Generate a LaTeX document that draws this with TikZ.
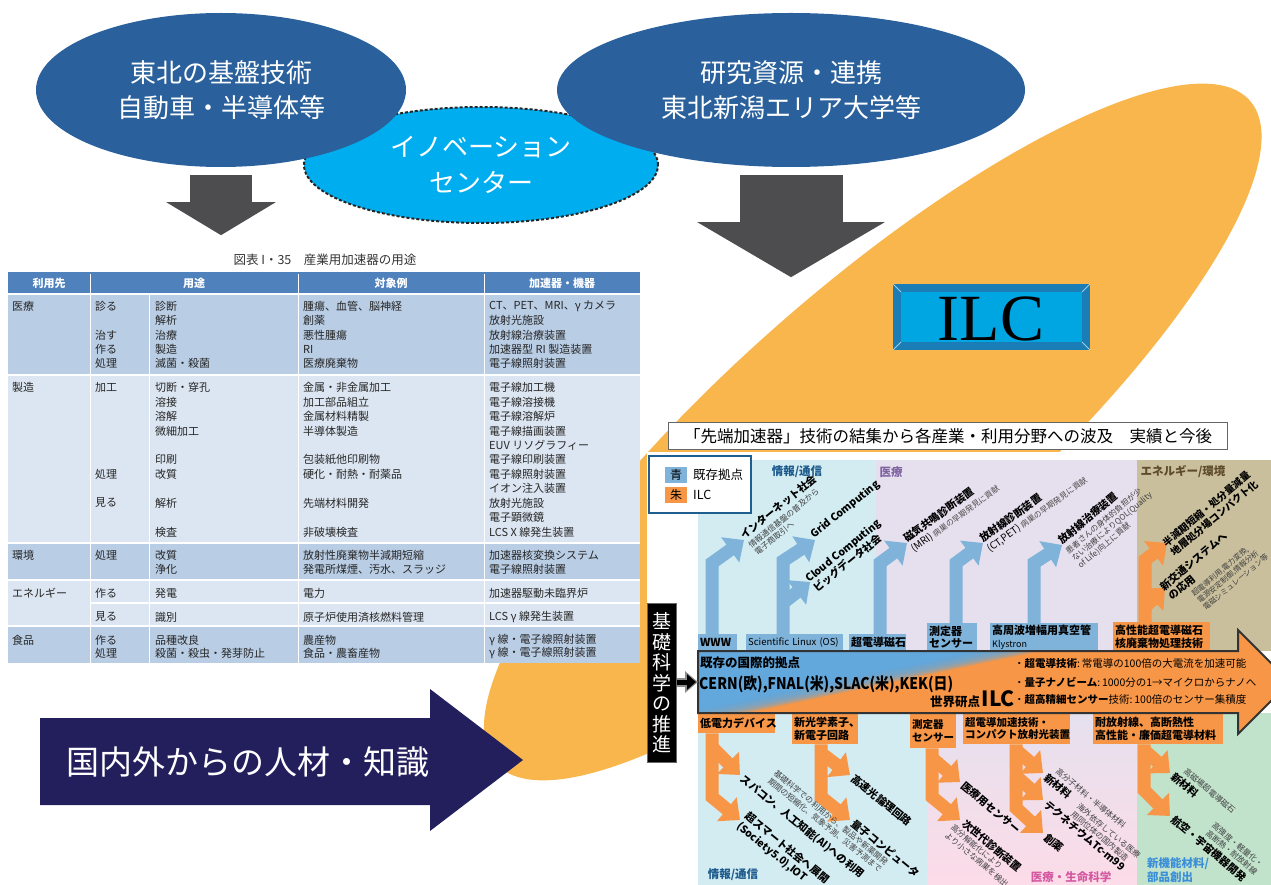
\documentclass[tikz,border=0pt]{standalone}
\usepackage{fontspec}
\setmainfont{Noto Sans CJK JP}
\newfontfamily\ilcfont{Liberation Serif}
\usetikzlibrary{arrows.meta,calc,shapes.geometric}
\newcommand\fsz[2]{\fontsize{#1}{#2}\selectfont}
\definecolor{ellblue}{HTML}{2A619C}
\definecolor{innov}{HTML}{00AEEF}
\definecolor{darkarrow}{HTML}{4D4D4F}
\definecolor{leaf}{HTML}{F9B64C}
\definecolor{navy}{HTML}{221F5C}
\definecolor{thead}{HTML}{4F81BD}
\definecolor{tmid}{HTML}{B9CDE5}
\definecolor{tlight}{HTML}{DCE6F2}
\definecolor{ilcouter}{HTML}{1A7DB5}
\definecolor{ilcin}{HTML}{00A6E2}
\definecolor{bl}{HTML}{7FB3DA}
\definecolor{orn}{HTML}{F79646}
\definecolor{cyanbg}{HTML}{D2ECF2}
\definecolor{lavbg}{HTML}{E6E0EE}
\definecolor{khaki}{HTML}{C9BF9D}
\definecolor{pinkbg}{HTML}{FCDCE8}
\definecolor{greenbg}{HTML}{C1E2CB}
\definecolor{arrblue}{HTML}{62A8DD}
\definecolor{legbd}{HTML}{1F5F8F}
\definecolor{catblue}{HTML}{1C5A8C}
\definecolor{catpurp}{HTML}{8064A2}
\definecolor{catbrown}{HTML}{5E4B2A}
\definecolor{catpink}{HTML}{D458A0}
\definecolor{catlblue}{HTML}{3A8FD8}
\begin{document}
\begin{tikzpicture}[x=1pt,y=-1pt,
  tt/.style={anchor=west, inner sep=0, font=\fsz{11}{13}, text=black!85},
  th/.style={inner sep=0, font=\bfseries\fsz{11}{13}, text=white},
  rt/.style={inner sep=0, font=\bfseries\fsz{10.5}{12.5}, align=left, text=black},
  st/.style={inner sep=0, font=\fsz{8}{9.5}, align=left, text=black!75},
  lbl/.style={anchor=north west, inner xsep=2, inner ysep=1, font=\bfseries\fsz{11}{12.5}, align=left, text=black},
  ua/.style={draw=bl, line width=13, line join=miter, -{Triangle[width=30pt,length=17pt]}},
  oa/.style={ua, draw=orn},
  cat/.style={inner sep=0, font=\bfseries\fsz{11.5}{13}},
]
\useasboundingbox (0,0) rectangle (1271,885);
\clip (0,0) rectangle (1271,885);

% orange leaf
\fill[leaf, rotate around={41.3:(875,430)}] (872,430) ellipse [x radius=502, y radius=143];

% top ellipses
\node[ellipse, fill=innov, draw=black!85, densely dashed, line width=2, minimum width=354, minimum height=116, inner sep=0, text=white, font=\fsz{26}{36}, align=center] (innov) at (481,165) {イノベーション\\センター};
\node[ellipse, fill=ellblue, minimum width=370, minimum height=154, inner sep=0, text=white, font=\fsz{26}{35}, align=center] (tohoku) at (221,90) {東北の基盤技術\\自動車・半導体等};
\node[ellipse, fill=ellblue, minimum width=468, minimum height=154, inner sep=0, text=white, font=\fsz{26}{35}, align=center] (kenkyu) at (791,90) {研究資源・連携\\東北新潟エリア大学等};

% down arrows
\draw[darkarrow, line width=62, -{Triangle[width=108pt,length=33pt]}] ($(tohoku.south)+(0,8)$) -- ++(0,60);
\draw[darkarrow, line width=103, -{Triangle[width=185pt,length=55pt]}] ($(kenkyu.south)+(0,8)$) -- ++(0,102);

% table
\node[inner sep=0, font=\fsz{12.5}{14}, text=black!80] (tabtitle) at (325,260) {図表 I・35\quad 産業用加速器の用途};
\fill[thead] (8,272) rectangle (640,294);
\fill[tmid] (8,294) rectangle (640,375);
\fill[tlight] (8,375) rectangle (640,543);
\fill[tmid] (8,543) rectangle (640,580);
\fill[tlight] (8,580) rectangle (640,626);
\fill[tmid] (8,626) rectangle (640,663);
\foreach \yy in {294,375,543,580,626} \draw[white, line width=1.5] (8,\yy) -- (640,\yy);
\draw[white, line width=1.5] (90,603) -- (640,603);
\foreach \xx in {90,298,484} \draw[white, line width=1] (\xx,274) -- (\xx,663);
\draw[white, line width=1] (149,294) -- (149,663);
\node[th] (h1) at (49,283) {利用先};
\node[th] (h2) at (194,283) {用途};
\node[th] (h3) at (391,283) {対象例};
\node[th] (h4) at (562,283) {加速器・機器};
\foreach \yy/\a/\b/\c/\d/\e [count=\i] in {
 306/医療/診る/診断/腫瘍、血管、脳神経/CT、PET、MRI、γ カメラ,
 320/{}/{}/解析/創薬/放射光施設,
 335/{}/治す/治療/悪性腫瘍/放射線治療装置,
 349/{}/作る/製造/RI/加速器型 RI 製造装置,
 363/{}/処理/滅菌・殺菌/医療廃棄物/電子線照射装置,
 387/製造/加工/切断・穿孔/金属・非金属加工/電子線加工機,
 402/{}/{}/溶接/加工部品組立/電子線溶接機,
 416/{}/{}/溶解/金属材料精製/電子線溶解炉,
 431/{}/{}/微細加工/半導体製造/電子線描画装置,
 445/{}/{}/{}/{}/EUV リソグラフィー,
 459/{}/{}/印刷/包装紙他印刷物/電子線印刷装置,
 474/{}/処理/改質/硬化・耐熱・耐薬品/電子線照射装置,
 488/{}/{}/{}/{}/イオン注入装置,
 503/{}/見る/解析/先端材料開発/放射光施設,
 517/{}/{}/{}/{}/電子顕微鏡,
 532/{}/{}/検査/非破壊検査/LCS X 線発生装置,
 555/環境/処理/改質/放射性廃棄物半減期短縮/加速器核変換システム,
 569/{}/{}/浄化/発電所煤煙、汚水、スラッジ/電子線照射装置,
 593/エネルギー/作る/発電/電力/加速器駆動未臨界炉,
 617/{}/見る/識別/原子炉使用済核燃料管理/LCS γ 線発生装置,
 640/食品/作る/品種改良/農産物/γ 線・電子線照射装置,
 653/{}/処理/殺菌・殺虫・発芽防止/食品・農畜産物/γ 線・電子線照射装置}{
 \node[tt] (ta\i) at (12,\yy) {\a};
 \node[tt] (tb\i) at (95,\yy) {\b};
 \node[tt] (tc\i) at (155,\yy) {\c};
 \node[tt] (td\i) at (303,\yy) {\d};
 \node[tt] (te\i) at (489,\yy) {\e};
}

% ILC box
\fill[ilcouter] (893,284) rectangle (1090,350);
\fill[ilcin] (901,292) rectangle (1082,342);
\draw[white!60!ilcouter, line width=1] (893,284) -- (901,292) (1090,284) -- (1082,292) (893,350) -- (901,342) (1090,350) -- (1082,342);
\node[inner sep=0, font=\ilcfont\fsz{66}{70}] (ilc) at (991,319) {ILC};

% navy arrow
\fill[navy] (40,718) -- (430,718) -- (430,689) -- (523,760) -- (430,831) -- (430,805) -- (40,805) -- cycle;
\node[text=white, inner sep=0, font=\fsz{33}{36}] (jinzai) at (248,762) {国内外からの人材・知識};

% right panel
\fill[white] (647,452) rectangle (1271,885);
\node[draw=black!60, fill=white, line width=1, minimum width=559, minimum height=27, anchor=north west, inner sep=0, font=\fsz{16.5}{18}] (title) at (668,422) {「先端加速器」技術の結集から各産業・利用分野への波及\quad 実績と今後};

\fill[cyanbg] (698,460) rectangle (876,651);
\fill[lavbg] (876,460) rectangle (1137,651);
\fill[khaki] (1137,460) rectangle (1271,651);
\fill[cyanbg] (698,713) rectangle (927,885);
\shade[top color=lavbg, bottom color=pinkbg] (927,713) rectangle (1137,885);
\fill[greenbg] (1137,713) rectangle (1271,885);

% legend
\node[draw=legbd, line width=1.5, fill=white, minimum width=102, minimum height=57, anchor=north west, inner sep=0] (legend) at (648,455) {};
\node[fill=bl, minimum width=22, minimum height=16, inner sep=0, font=\fsz{12}{12}] (lgb) at (676,475) {青};
\node[fill=orn, minimum width=22, minimum height=16, inner sep=0, font=\fsz{12}{12}] (lgo) at (676,495) {朱};
\node[anchor=west, inner sep=0, font=\fsz{12.5}{13}] (lgbt) at (693,475) {既存拠点};
\node[anchor=west, inner sep=0, font=\fsz{12.5}{13}] (lgot) at (693,495) {ILC};

% label boxes (upper)
\node[lbl, fill=bl, text width=35, minimum height=17] (www) at (698,634) {WWW};
\node[lbl, fill=bl, text width=93, minimum height=17, font=\fsz{9.5}{11}] (sl) at (746,634) {Scientific Linux (OS)};
\node[lbl, fill=bl, text width=53, minimum height=17] (mag) at (849,634) {超電導磁石};
\node[lbl, fill=bl, text width=46, minimum height=28] (sen1) at (927,623) {測定器\\センサー};
\node[lbl, fill=bl, text width=104, minimum height=28] (kly) at (990,623) {高周波増幅用真空管\\{\mdseries\fsz{9}{10}Klystron}};
\node[lbl, fill=orn, text width=93, minimum height=29] (kos) at (1113,622) {高性能超電導磁石\\核廃棄物処理技術};

% label boxes (lower)
\node[lbl, fill=orn, text width=73, minimum height=20] (tei) at (698,713) {低電力デバイス};
\node[lbl, fill=orn, text width=62, minimum height=31] (shin) at (792,713) {新光学素子、\\新電子回路};
\node[lbl, fill=orn, text width=42, minimum height=35, font=\bfseries\fsz{10.5}{12.5}] (sen2) at (910,713) {測定器\\センサー};
\node[lbl, fill=orn, text width=103, minimum height=31, font=\bfseries\fsz{10.5}{12.5}] (cho) at (963,713) {超電導加速技術・\\コンパクト放射光装置};
\node[lbl, fill=orn, text width=126, minimum height=31] (tai) at (1093,713) {耐放射線、高断熱性\\高性能・廉価超電導材料};

% upper arrows
\coordinate (u1b) at (712,563); \coordinate (u1t) at (744,540);
\coordinate (u2b) at (783,561); \coordinate (u2t) at (815,540);
\coordinate (u2c) at (783,603); \coordinate (u2d) at (810,582);
\coordinate (u3b) at (880,563); \coordinate (u3t) at (907,543);
\coordinate (u4b) at (956,563); \coordinate (u4t) at (983,543);
\coordinate (u5b) at (1034,563); \coordinate (u5t) at (1062,545);
\coordinate (u6b) at (1145,560); \coordinate (u6t) at (1167,543);
\coordinate (u6c) at (1145,607); \coordinate (u6d) at (1165,588);
\draw[ua] (www.north -| u1b) -- (u1b) -- (u1t);
\draw[ua] (sl.north -| u2b) -- (u2b) -- (u2t);
\draw[ua] (u2c) -- (u2d);
\draw[ua] (mag.north -| u3b) -- (u3b) -- (u3t);
\draw[ua] (sen1.north -| u4b) -- (u4b) -- (u4t);
\draw[ua] (kly.north -| u5b) -- (u5b) -- (u5t);
\draw[oa] (kos.north -| u6b) -- (u6b) -- (u6t);
\draw[oa] (u6c) -- (u6d);

% lower arrows
\coordinate (d1b) at (712,797); \coordinate (d1t) at (740,820);
\coordinate (d1c) at (712,747); \coordinate (d1d) at (740,775);
\coordinate (d2b) at (821,797); \coordinate (d2t) at (850,820);
\coordinate (d2c) at (821,753); \coordinate (d2d) at (850,775);
\coordinate (d3b) at (932,797); \coordinate (d3t) at (960,820);
\coordinate (d3c) at (932,758); \coordinate (d3d) at (960,782);
\coordinate (d4b) at (1016,808); \coordinate (d4t) at (1043,833);
\coordinate (d4c) at (1016,750); \coordinate (d4d) at (1043,773);
\coordinate (d4e) at (1016,776); \coordinate (d4f) at (1043,800);
\coordinate (d5b) at (1144,790); \coordinate (d5t) at (1170,816);
\coordinate (d5c) at (1144,750); \coordinate (d5d) at (1170,773);
\draw[oa] (tei.south -| d1b) -- (d1b) -- (d1t);
\draw[oa] (d1c) -- (d1d);
\draw[oa] (shin.south -| d2b) -- (d2b) -- (d2t);
\draw[oa] (d2c) -- (d2d);
\draw[oa] (sen2.south -| d3b) -- (d3b) -- (d3t);
\draw[oa] (d3c) -- (d3d);
\draw[oa] (cho.south -| d4b) -- (d4b) -- (d4t);
\draw[oa] (d4c) -- (d4d);
\draw[oa] (d4e) -- (d4f);
\draw[oa] (tai.south -| d5b) -- (d5b) -- (d5t);
\draw[oa] (d5c) -- (d5d);

% big arrow
\coordinate (A1) at (698,651); \coordinate (A2) at (1238,651); \coordinate (A3) at (1238,630);
\coordinate (A4) at (1290,682); \coordinate (A5) at (1238,734); \coordinate (A6) at (1238,713);
\coordinate (A7) at (698,713); \coordinate (arrL) at (698,682);
\fill[orn] (A1) -- (A2) -- (A3) -- (A4) -- (A5) -- (A6) -- (A7) -- cycle;
\begin{scope}
\clip (A1) -- (A2) -- (A3) -- (A4) -- (A5) -- (A6) -- (A7) -- cycle;
\fill[arrblue] (600,640) -- (1032,640) -- (644,722) -- (600,722) -- cycle;
\foreach \d in {-24,-18,...,30} {
  \fill[arrblue, opacity=0.25] (600,640) -- ({1062+\d},640) -- ({674+\d},722) -- (600,722) -- cycle;
}
\end{scope}
\draw[black!80, line width=2, line join=miter] (A1) -- (A2) -- (A3) -- (A4) -- (A5) -- (A6) -- (A7) -- cycle;

\node[anchor=west, inner sep=0, font=\bfseries\fsz{12.5}{14}] (kizon) at (700,663) {既存の国際的拠点};
\node[anchor=west, inner sep=0, font=\bfseries\fsz{16}{18}] (cern) at (699,684) {\scalebox{0.87}[1]{CERN(欧),FNAL(米),SLAC(米),KEK(日)}};
\node[anchor=base east, inner sep=0] (sekai) at (1015,706) {{\bfseries\fsz{12.5}{14}世界研点}\,{\bfseries\fsz{21}{22}ILC}};
\node[anchor=west, inner sep=0, font=\fsz{10.5}{12}] (bu1) at (1014,663) {・{\bfseries 超電導技術}:\,常電導の100倍の大電流を加速可能};
\node[anchor=west, inner sep=0, font=\fsz{10.5}{12}] (bu2) at (1014,682) {・{\bfseries 量子ナノビーム}:\,1000分の1→マイクロからナノへ};
\node[anchor=west, inner sep=0, font=\fsz{10.5}{12}] (bu3) at (1014,700) {・{\bfseries 超高精細センサー}技術:\,100倍のセンサー集積度};

% kiso box
\node[fill=black, draw=black!60, line width=1, minimum width=29, minimum height=159, anchor=north west, inner sep=0] (kiso) at (647,603) {};
\node[text=white, inner sep=0, font=\fsz{19}{20.5}, align=center] (kisot) at (kiso.center) {基\\礎\\科\\学\\の\\推\\進};
\draw[line width=9, black!45, -{Triangle[width=21pt,length=13pt]}] (kiso.east |- arrL) -- (arrL);
\draw[line width=5, black, -{Triangle[width=15pt,length=9pt]}] (kiso.east |- arrL) -- ($(arrL)+(-2,0)$);

% upper rotated texts
\node[rt, rotate=39, anchor=south west] (t1) at (745,541) {インターネット社会};
\node[st, rotate=39, anchor=north west] (t1s) at (747,543) {情報通信基盤の普及から\\電子商取引へ};
\node[rt, rotate=39, anchor=south west] (t2) at (816,541) {Grid Computing};
\node[rt, rotate=39, anchor=west] (t3) at (811,585) {Cloud Computing\\ビッグデータ社会};
\node[rt, rotate=36, anchor=south west] (t4) at (908,544) {磁気共鳴診断装置};
\node[rt, rotate=36, anchor=north west, font=\fsz{10}{12}] (t4s) at (909,546) {(MRI)\ {\fsz{8}{9}\color{black!70}病巣の早期発見に貢献}};
\node[rt, rotate=36, anchor=south west] (t5) at (984,544) {放射線診断装置};
\node[rt, rotate=36, anchor=north west, font=\fsz{10}{12}] (t5s) at (985,546) {(CT,PET)\ {\fsz{8}{9}\color{black!70}病巣の早期発見に貢献}};
\node[rt, rotate=40, anchor=south west] (t6) at (1063,546) {放射線治療装置};
\node[st, rotate=40, anchor=north west] (t6s) at (1064,549) {患者さんの身体的負担が少\\ない治療によりQOL(Quality\\of Life)向上に貢献};
\node[rt, rotate=40, anchor=west, font=\bfseries\fsz{10}{12}] (t7) at (1168,549) {半減期短縮・処分量減量\\地層処分場コンパクト化};
\node[rt, rotate=40, anchor=west] (t8) at (1166,593) {新交通システムへ\\の応用};
\node[st, rotate=40, anchor=north west, font=\fsz{7.5}{9}] (t8s) at (1190,592) {超電導利用,電力変換,\\電源安定制御,情報分析\\電磁シミュレーション等};

% lower rotated texts
\node[rt, rotate=-39, anchor=west] (b1) at (742,778) {スパコン、人工知能(AI)への利用};
\node[st, rotate=-39, anchor=west] (b1s) at (772,776) {基礎科学での利用から、製品や新薬開発\\期間の短縮化、気象予測、災害予測まで};
\node[rt, rotate=-39, anchor=west] (b2) at (742,820) {超スマート社会へ展開\\(Society5.0),IOT};
\node[rt, rotate=-39, anchor=west] (b3) at (853,777) {高速光論理回路};
\node[rt, rotate=-39, anchor=west] (b4) at (853,822) {量子コンピュータ};
\node[rt, rotate=-40, anchor=west] (b5) at (963,784) {医療用センサー};
\node[rt, rotate=-40, anchor=west] (b6) at (964,822) {次世代診断装置};
\node[st, rotate=-40, anchor=west] (b6s) at (949,830) {高分解能化により\\より小さな病巣を検出};
\node[rt, rotate=-40, anchor=west] (b7) at (1046,776) {新材料};
\node[st, rotate=-40, anchor=west] (b7s) at (1057,770) {高分子材料・半導体材料};
\node[rt, rotate=-40, anchor=west] (b8) at (1046,803) {テクネチウムTc-m99};
\node[st, rotate=-40, anchor=west] (b8s) at (1075,809) {海外依存している医療\\用同位体の国内製造};
\node[rt, rotate=-40, anchor=west] (b9) at (1046,836) {創薬};
\node[rt, rotate=-40, anchor=west] (b10) at (1173,775) {新材料};
\node[st, rotate=-40, anchor=west] (b10s) at (1185,770) {高磁場超電導磁石};
\node[rt, rotate=-40, anchor=west] (b11) at (1173,818) {航空・宇宙機器開発};
\node[st, rotate=-40, anchor=west] (b11s) at (1210,828) {高強度・軽量化・\\高断熱・耐放射線};

% category labels
\node[cat, text=catblue] (c1) at (797,472) {情報/通信};
\node[cat, text=catpurp] (c2) at (891,472) {医療};
\node[cat, text=catbrown] (c3) at (1183,472) {エネルギー/環境};
\node[cat, text=catblue] (c4) at (733,875) {情報/通信};
\node[cat, text=catpink] (c5) at (1071,877) {医療・生命科学};
\node[cat, text=catlblue, anchor=west, align=left, font=\bfseries\fsz{11.5}{14}] (c6) at (1147,870) {新機能材料/\\部品創出};
\end{tikzpicture}
\end{document}
